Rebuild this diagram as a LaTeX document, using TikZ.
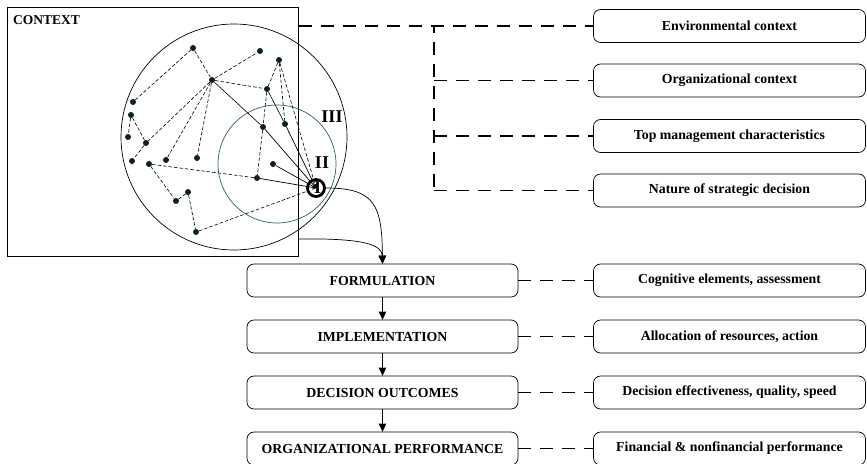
\documentclass[tikz,border=0pt]{standalone}
\usepackage{fontspec}
\setmainfont{Liberation Serif}
\usetikzlibrary{arrows.meta,positioning}

\definecolor{dotgreen}{RGB}{12,36,24}
\definecolor{ringgreen}{RGB}{46,100,70}

\tikzset{
  box/.style={draw, rounded corners=7pt, line width=0.7pt, minimum width=271pt,
    minimum height=33pt, font=\bfseries\fontsize{13.8}{16}\selectfont},
  sidebox/.style={box, minimum width=272pt},
  dot/.style={circle, fill=dotgreen, inner sep=0pt, minimum size=6pt},
  link/.style={dash pattern=on 3.5pt off 2pt, line width=0.6pt},
  tie/.style={dash pattern=on 13pt off 9pt, line width=1.7pt},
  toI/.style={-{To[length=3.5pt,width=4.5pt]}, line width=0.7pt},
  down/.style={-{Triangle[length=8pt,width=7.5pt]}, line width=0.7pt}
}

\begin{document}
\begin{tikzpicture}[x=1pt,y=-1pt]
    \useasboundingbox (0,0) rectangle (867,463);
    \tikzstyle{every node}+=[inner sep=0pt]
    % context frame and circles
    \node [draw, line width=0.7pt, minimum width=291pt, minimum height=249pt, anchor=north west] (ctx) at (7,7) {};
    \node [anchor=north west, font=\bfseries\fontsize{13.5}{16}\selectfont] (ctxlabel) at (13,15) {CONTEXT};
    \node [circle, draw, line width=0.7pt, minimum size=226pt] (outer) at (234,137) {};
    \node [circle, draw=ringgreen, line width=0.7pt, minimum size=118pt] (inner) at (277,164) {};
    \node [font=\bfseries\fontsize{18}{20}\selectfont] (lIII) at (332,117) {III};
    \node [font=\bfseries\fontsize{18}{20}\selectfont] (lII) at (322,163) {II};
    \node [circle, draw, line width=2.8pt, minimum size=17pt, font=\bfseries\fontsize{18}{20}\selectfont] (core) at (316,188) {\hspace{3pt}I};
    % network
    \foreach \n/\p in {d1/{193,48}, d2/{260,51}, d3/{279,60}, d4/{212,80}, d5/{267,89},
      d6/{133,102}, d7/{131,115}, d8/{128,137}, d9/{146,143}, d10/{132,161},
      d11/{149,164}, d12/{166,160}, d13/{197,158}, d14/{263,127}, d15/{285,124},
      d16/{273,164}, d17/{257,178}, d18/{176,201}, d19/{188,192}, d20/{196,232}}
      \node [dot] (\n) at (\p) {};
    \foreach \a/\b in {d6/d1, d1/d4, d4/d2, d4/d5, d4/d9, d4/d12, d4/d13, d7/d8, d7/d9,
      d9/d10, d11/d17, d11/d18, d18/d19, d19/d20, d20/core, d3/d5, d3/d15, d5/d14, d14/d17}
      \draw [link] (\a) -- (\b);
    \draw [line width=0.6pt] (d4) -- (d14);
    \draw [line width=0.6pt] (d5) -- (d15);
    \foreach \a in {d14, d15, d16, d17}
      \draw [toI] (\a) -- (core.center);
    \draw [toI, link] (d3) -- (core.center);
    % process column
    \node [box] (form) at (382.5,280.5) {FORMULATION};
    \node [box] (impl) at (382.5,336.5) {IMPLEMENTATION};
    \node [box] (outc) at (382.5,392.5) {DECISION OUTCOMES};
    \node [box] (perf) at (382.5,448.5) {ORGANIZATIONAL PERFORMANCE};
    \draw [down] (form) -- (impl);
    \draw [down] (impl) -- (outc);
    \draw [down] (outc) -- (perf);
    \coordinate (ctxout) at (298,239);
    \draw [down] (core.east) .. controls (375,188) and (382,205) .. (form.north);
    \draw [down] (ctxout) .. controls (365,238) and (382,245) .. (form.north);
    % context factors
    \node [sidebox] (env) at (729.5,26) {Environmental context};
    \node [sidebox] (orgc) at (729.5,80.5) {Organizational context};
    \node [sidebox] (topm) at (729.5,136) {Top management characteristics};
    \node [sidebox] (nat) at (729.5,190.5) {Nature of strategic decision};
    \coordinate (jtop) at (434,26);
    \draw [tie] (ctx.east |- env.west) -- (env.west);
    \draw [tie, dash phase=6pt] (jtop) -- (jtop |- nat.west);
    \draw [tie] (jtop |- orgc.west) -- (orgc.west);
    \draw [tie] (jtop |- topm.west) -- (topm.west);
    \draw [tie] (jtop |- nat.west) -- (nat.west);
    % process details
    \node [sidebox] (cog) at (729.5,280.5) {Cognitive elements, assessment};
    \node [sidebox] (alloc) at (729.5,336.5) {Allocation of resources, action};
    \node [sidebox] (eff) at (729.5,392.5) {Decision effectiveness, quality, speed};
    \node [sidebox] (fin) at (729.5,448.5) {Financial \& nonfinancial performance};
    \draw [tie] (form) -- (cog);
    \draw [tie] (impl) -- (alloc);
    \draw [tie] (outc) -- (eff);
    \draw [tie] (perf) -- (fin);
\end{tikzpicture}
\end{document}
